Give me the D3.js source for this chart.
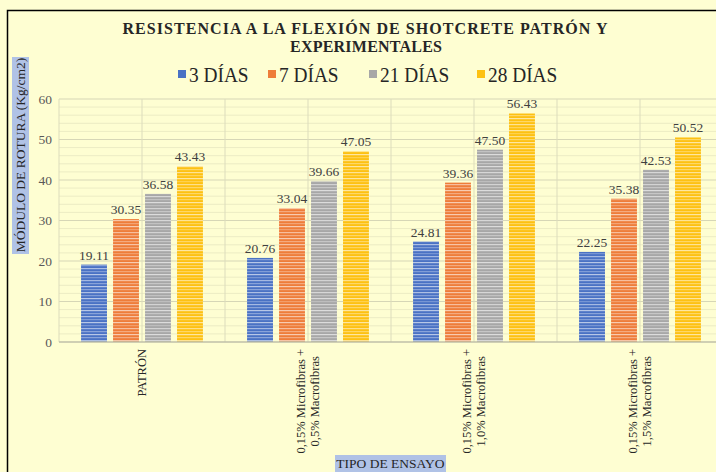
<!DOCTYPE html>
<html><head><meta charset="utf-8">
<script src="https://cdn.jsdelivr.net/npm/d3@7"></script>
<style>
html,body{margin:0;padding:0;background:#fefed2;}
svg{display:block;}
</style></head>
<body>
<svg id="c" width="716" height="472"></svg>
<script>
const categories = [
  ["PATRÓN"],
  ["0,15% Microfibras +", "0,5% Macrofibras"],
  ["0,15% Microfibras +", "1,0% Macrofibras"],
  ["0,15% Microfibras +", "1,5% Macrofibras"]
];
const series = ["3 DÍAS", "7 DÍAS", "21 DÍAS", "28 DÍAS"];
const dias3  = [19.11, 20.76, 24.81, 22.25];
const dias7  = [30.35, 33.04, 39.36, 35.38];
const dias21 = [36.58, 39.66, 47.50, 42.53];
const dias28 = [43.43, 47.05, 56.43, 50.52];
const yTicks = [0, 10, 20, 30, 40, 50, 60];
const values = [dias3, dias7, dias21, dias28];
const colors = ["#4a72c4", "#ee7d3a", "#a7a7a7", "#fdc112"];
const FONT = "'Liberation Serif'";

const svg = d3.select("#c");
svg.append("rect").attr("width",716).attr("height",472).attr("fill","#fefed2");
function T(sel){ return sel.style("font-family", FONT); }

// stripe patterns
const defs = svg.append("defs");
const stripes = [[1,0.35],[4,0.55],[7,0.3],[10,0.6],[13,0.25],[16,0.5],[19,0.35],[22,0.6]];
colors.forEach((c,i)=>{
  const p = defs.append("pattern").attr("id","pat"+i).attr("patternUnits","userSpaceOnUse")
    .attr("width",40).attr("height",24);
  p.append("rect").attr("width",40).attr("height",24).attr("fill",c);
  stripes.forEach(([yy,o])=>{
    p.append("rect").attr("x",0).attr("y",yy).attr("width",40).attr("height",1.2)
      .attr("fill","#ffffff").attr("opacity",o);
  });
});

const catIdx = categories.map((d,i)=>i);
const x0 = d3.scaleBand().domain(catIdx).range([59,723]).padding(0);
const x1 = d3.scaleBand().domain(d3.range(series.length)).range([0,x0.bandwidth()])
  .paddingInner(0.19).paddingOuter(0.69);
const y = d3.scaleLinear().domain([0,60]).range([342,99]);

const g = svg.append("g");
g.selectAll(".minor").data(d3.range(0,61,2).filter(v=>v%10!==0)).join("line")
  .attr("x1",59).attr("x2",723).attr("y1",d=>y(d)).attr("y2",d=>y(d))
  .attr("stroke","#ececc4").attr("stroke-width",1);
g.selectAll(".major").data(yTicks.filter(v=>v>0)).join("line")
  .attr("x1",59).attr("x2",723).attr("y1",d=>y(d)).attr("y2",d=>y(d))
  .attr("stroke","#d6d6b6").attr("stroke-width",1);
const vx = [];
catIdx.forEach(i=>{vx.push(x0(i)); vx.push(x0(i)+x0.bandwidth()/2);});
g.selectAll(".v").data(vx).join("line")
  .attr("x1",d=>d).attr("x2",d=>d).attr("y1",y(60)).attr("y2",y(0))
  .attr("stroke","#dcdcbc").attr("stroke-width",1);

series.forEach((s,si)=>{
  svg.append("g").selectAll("rect").data(values[si]).join("rect")
    .attr("x",(d,i)=>x0(i)+x1(si)).attr("width",x1.bandwidth())
    .attr("y",d=>y(d)).attr("height",d=>y(0)-y(d))
    .attr("fill","url(#pat"+si+")");
  T(svg.append("g").selectAll("text").data(values[si]).join("text")
    .attr("x",(d,i)=>x0(i)+x1(si)+x1.bandwidth()/2).attr("y",d=>y(d)-5)
    .attr("text-anchor","middle").attr("font-size",13.5).attr("fill","#404040")
    .text(d=>d.toFixed(2)));
});

svg.append("line").attr("x1",59).attr("x2",723).attr("y1",y(0)).attr("y2",y(0))
  .attr("stroke","#bfbfa8").attr("stroke-width",1.5);

const yAxis = d3.axisLeft(y).tickValues(yTicks).tickSize(0).tickPadding(0);
const ya = svg.append("g").attr("transform","translate(52,0)").call(yAxis);
ya.select(".domain").remove();
T(ya.selectAll("text").attr("font-size",13.5).attr("fill","#595959"));

catIdx.forEach(i=>{
  const lines = categories[i];
  const cx = x0(i)+x0.bandwidth()/2;
  const lh = 14;
  const grp = svg.append("g");
  const tmp = lines.map(l=>T(grp.append("text").attr("font-size",12.5).attr("fill","#262626").text(l)));
  const maxW = d3.max(tmp, t=>t.node().getComputedTextLength());
  const yc = 349 + maxW/2;
  tmp.forEach((t,k)=>{
    const off = (k-(lines.length-1)/2)*lh + 4;
    t.attr("text-anchor","middle").attr("transform",`translate(${cx+off},${yc}) rotate(-90)`);
  });
});

T(svg.append("text").attr("x",365).attr("y",34).attr("text-anchor","middle")
  .attr("font-size",16).attr("font-weight","bold").attr("fill","#262626")
  .attr("textLength",485).attr("lengthAdjust","spacing")
  .text("RESISTENCIA A LA FLEXIÓN DE SHOTCRETE PATRÓN Y"));
T(svg.append("text").attr("x",366).attr("y",52).attr("text-anchor","middle")
  .attr("font-size",16).attr("font-weight","bold").attr("fill","#262626")
  .attr("textLength",152).attr("lengthAdjust","spacing")
  .text("EXPERIMENTALES"));

const legX = [178, 268, 369, 477];
series.forEach((s,i)=>{
  svg.append("rect").attr("x",legX[i]).attr("y",70).attr("width",8).attr("height",8)
    .attr("fill",colors[i]);
  T(svg.append("text").attr("transform",`translate(${legX[i]+11},82) scale(0.9,1)`).attr("font-size",21.5)
    .attr("fill","#262626").text(s));
});

svg.append("rect").attr("x",12).attr("y",57).attr("width",17).attr("height",197).attr("fill","#b0c2e6");
T(svg.append("text").attr("transform","translate(25,155) rotate(-90)").attr("text-anchor","middle")
  .attr("font-size",13.5).attr("fill","#262626").text("MÓDULO DE ROTURA (Kg/cm2)"));

svg.append("rect").attr("x",335).attr("y",455).attr("width",111).attr("height",17).attr("fill","#b0c2e6");
T(svg.append("text").attr("x",390.5).attr("y",468).attr("text-anchor","middle")
  .attr("font-size",13.5).attr("fill","#262626").text("TIPO DE ENSAYO"));

svg.append("path").attr("d","M7.5,472 L7.5,10.5 L716,10.5").attr("fill","none")
  .attr("stroke","#000").attr("stroke-width",1.5);
</script>
</body></html>
